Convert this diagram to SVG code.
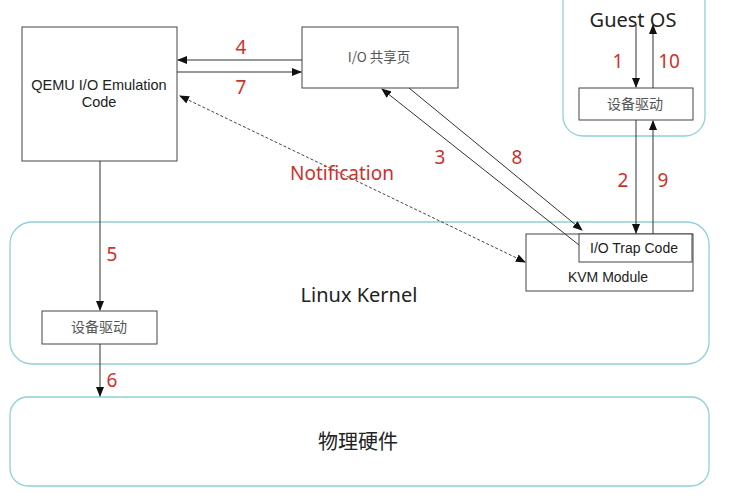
<svg xmlns="http://www.w3.org/2000/svg" width="731" height="501" viewBox="0 0 731 501">
<style>
.box{fill:#fff;stroke:#444;stroke-width:1}
.region{fill:none;stroke:#8fd0d8;stroke-width:1.3}
.t{font-family:"Liberation Sans",Arial,sans-serif;fill:#222;text-anchor:middle}
.cn{font-family:"Noto Sans CJK SC","Liberation Sans",sans-serif;fill:#555;text-anchor:middle}
.big{font-family:"Noto Sans","Noto Sans CJK SC",sans-serif;fill:#222;text-anchor:middle;font-size:20px}
.num{font-family:"Noto Sans","Liberation Sans",sans-serif;fill:#d0302a;text-anchor:middle;font-size:19px}
.ln{stroke:#333;stroke-width:1;fill:none}
.dash{stroke:#444;stroke-width:1;fill:none;stroke-dasharray:3,2}
</style>
<defs>
<marker id="ah" markerWidth="10" markerHeight="8" refX="9" refY="4" orient="auto" markerUnits="userSpaceOnUse">
<path d="M0,0 L10,4 L0,8 Z" fill="#111"/>
</marker>
<marker id="ahs" markerWidth="10" markerHeight="8" refX="1" refY="4" orient="auto" markerUnits="userSpaceOnUse">
<path d="M10,0 L0,4 L10,8 Z" fill="#111"/>
</marker>
</defs>
<rect width="731" height="501" fill="#fff"/>

<g id="guest-os">
<rect class="region" x="563" y="-20" width="142" height="156" rx="20"/>
<text class="big" x="633" y="27" font-size="21">Guest OS</text>
</g>
<g id="linux-kernel">
<rect class="region" x="10" y="222" width="699" height="142" rx="22"/>
<text class="big" x="359" y="302">Linux Kernel</text>
</g>
<g id="hardware">
<rect class="region" x="10" y="397" width="699" height="89" rx="18"/>
<text class="big" x="358" y="449">物理硬件</text>
</g>

<g id="qemu">
<rect class="box" x="22" y="27" width="155" height="134"/>
<text class="t" x="99" y="90" font-size="14.5">QEMU I/O Emulation</text>
<text class="t" x="99" y="107" font-size="14.5">Code</text>
</g>
<g id="shared-page">
<rect class="box" x="302" y="27" width="156" height="61"/>
<text class="cn" x="379" y="62" font-size="13.5">I/O 共享页</text>
</g>
<g id="guest-driver">
<rect class="box" x="579" y="88" width="114" height="32"/>
<text class="cn" x="635" y="109" font-size="14">设备驱动</text>
</g>
<g id="kvm-module">
<rect class="box" x="526" y="234" width="167" height="57"/>
<text class="t" x="608" y="282" font-size="14">KVM Module</text>
</g>
<g id="io-trap">
<rect class="box" x="579" y="234" width="113" height="28"/>
<text class="t" x="634" y="253" font-size="14">I/O Trap Code</text>
</g>
<g id="kernel-driver">
<rect class="box" x="42" y="311" width="115" height="33"/>
<text class="cn" x="99" y="332" font-size="14">设备驱动</text>
</g>

<g id="connectors">
<line class="ln" x1="302" y1="60" x2="178" y2="60" marker-end="url(#ah)"/>
<line class="ln" x1="177" y1="72" x2="301" y2="72" marker-end="url(#ah)"/>
<line class="dash" x1="525" y1="262" x2="180" y2="96" marker-start="url(#ahs)" marker-end="url(#ah)"/>
<line class="ln" x1="579" y1="245" x2="382" y2="89" marker-end="url(#ah)"/>
<line class="ln" x1="409" y1="88" x2="582" y2="230" marker-end="url(#ah)"/>
<line class="ln" x1="636" y1="24" x2="636" y2="87" marker-end="url(#ah)"/>
<line class="ln" x1="653" y1="88" x2="653" y2="25" marker-end="url(#ah)"/>
<line class="ln" x1="636" y1="120" x2="636" y2="233" marker-end="url(#ah)"/>
<line class="ln" x1="653" y1="234" x2="653" y2="121" marker-end="url(#ah)"/>
<line class="ln" x1="100" y1="161" x2="100" y2="310" marker-end="url(#ah)"/>
<line class="ln" x1="100" y1="344" x2="100" y2="396" marker-end="url(#ah)"/>
</g>

<g id="labels">
<text class="num" x="241" y="54">4</text>
<text class="num" x="241" y="94">7</text>
<text class="num" x="618" y="68">1</text>
<text class="num" x="669" y="68">10</text>
<text class="num" x="440" y="164">3</text>
<text class="num" x="517" y="164">8</text>
<text class="num" x="623" y="187">2</text>
<text class="num" x="663" y="187">9</text>
<text class="num" x="112" y="261">5</text>
<text class="num" x="112" y="387">6</text>
<text class="num" x="342" y="180" font-size="15">Notification</text>
</g>
</svg>
